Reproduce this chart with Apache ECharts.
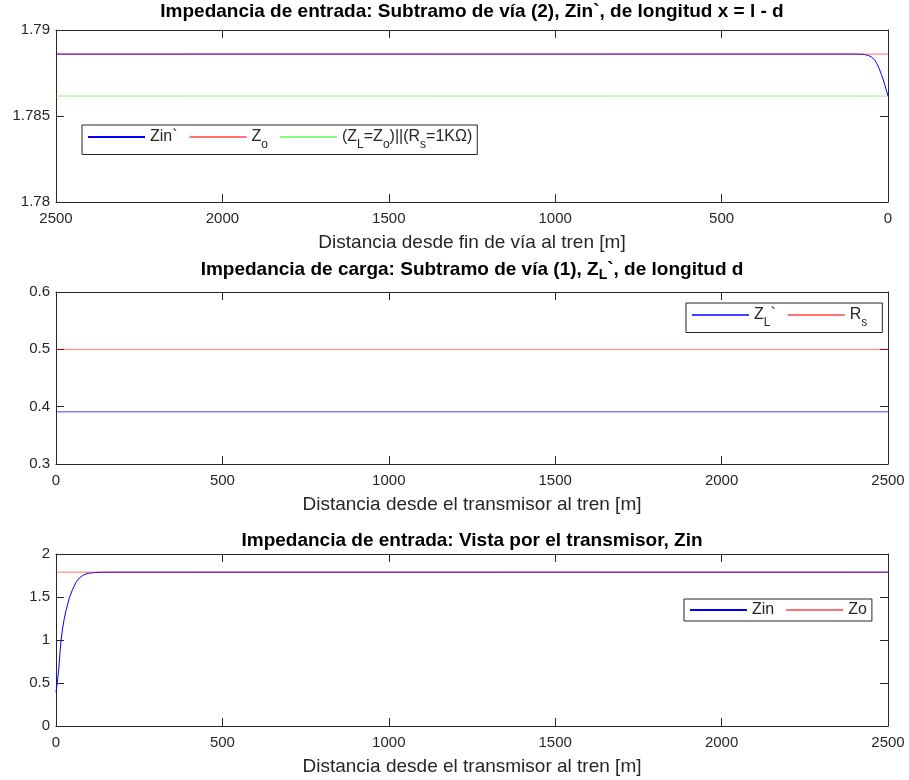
<!DOCTYPE html>
<html>
<head>
<meta charset="utf-8">
<script src="https://cdn.jsdelivr.net/npm/echarts@6/dist/echarts.min.js"></script>
<style>
  html, body { margin: 0; padding: 0; background: #ffffff; }
  #chart { width: 909px; height: 780px; }
</style>
</head>
<body>
<div id="chart"></div>
<script>
// ---- Panel 1: input impedance of track sub-section (2), length x = l - d ----
const distFromEnd = [0, 5, 10, 15, 20, 25, 30, 35, 40, 50, 60, 70, 80, 100, 2500];
const zinPrime = [1.78616, 1.7865, 1.78684, 1.78715, 1.78742, 1.78768, 1.78791, 1.7881, 1.78826, 1.78843, 1.78853, 1.78857, 1.78859, 1.7886, 1.7886];
const spanX = [0, 2500];
const zoLevel = [1.7886, 1.7886];
const zlParallelRs = [1.78616, 1.78616];
const yTicksTop = [1.78, 1.785, 1.79];

// ---- Panel 2: load impedance of track sub-section (1), length d ----
const zlPrime = [0.391, 0.391];
const rsLevel = [0.5, 0.5];
const yTicksMid = [0.3, 0.4, 0.5, 0.6];

// ---- Panel 3: input impedance seen by the transmitter ----
const distFromTx = [0, 4, 8, 12, 15, 20, 25, 30, 40, 50, 60, 70, 80, 90, 100, 110, 120, 130, 150, 180, 2500];
const zinTx = [0.39, 0.51, 0.65, 0.85, 0.99, 1.14, 1.25, 1.34, 1.49, 1.59, 1.67, 1.72, 1.75, 1.768, 1.777, 1.782, 1.785, 1.787, 1.788, 1.7886, 1.7886];
const zoTx = [1.7886, 1.7886];
const yTicksBot = [0, 0.5, 1, 1.5, 2];

const xTicks = [0, 500, 1000, 1500, 2000, 2500];

const FONT = '"Liberation Sans", Arial, Helvetica, sans-serif';
const INK = '#262626';
const BLUE = '#0000ff';
const RED = 'rgba(255,0,0,0.55)';
const GREEN = 'rgba(0,255,0,0.5)';

const pairs = (xs, ys) => xs.map((x, i) => [x, ys[i]]);
const fmtNum = v => String(parseFloat(Number(v).toFixed(4)));

const GRID_TOPS = [30, 292, 554];
const grids = GRID_TOPS.map(t => ({ left: 56, top: t, width: 832, height: 172, containLabel: false }));

function xPair(gridIndex, name, inverse) {
  const common = {
    type: 'value', gridIndex, min: xTicks[0], max: xTicks[xTicks.length - 1],
    interval: xTicks[1] - xTicks[0], inverse,
    splitLine: { show: false },
    axisLine: { show: true, onZero: false, lineStyle: { color: INK, width: 1 } },
    axisTick: { show: true, inside: true, length: 8, lineStyle: { color: INK } }
  };
  return [
    Object.assign({}, common, {
      position: 'bottom', name, nameLocation: 'middle', nameGap: 31,
      nameTextStyle: { fontFamily: FONT, fontSize: 19, color: INK },
      axisLabel: { fontFamily: FONT, fontSize: 15, color: INK, margin: 9, formatter: fmtNum }
    }),
    Object.assign({}, common, { position: 'top', axisLabel: { show: false } })
  ];
}

function yPair(gridIndex, ticks) {
  const common = {
    type: 'value', gridIndex, min: ticks[0], max: ticks[ticks.length - 1],
    interval: ticks[1] - ticks[0],
    splitLine: { show: false },
    axisLine: { show: true, onZero: false, lineStyle: { color: INK, width: 1 } },
    axisTick: { show: true, inside: true, length: 8, lineStyle: { color: INK } }
  };
  return [
    Object.assign({}, common, {
      position: 'left',
      axisLabel: { fontFamily: FONT, fontSize: 15, color: INK, margin: 6, formatter: fmtNum }
    }),
    Object.assign({}, common, { position: 'right', axisLabel: { show: false } })
  ];
}

function line(name, xi, data, color) {
  return {
    name, type: 'line', xAxisIndex: xi, yAxisIndex: xi, data,
    symbol: 'none', showSymbol: false, smooth: false, animation: false,
    lineStyle: { color, width: 1 }, itemStyle: { color }
  };
}

const legendText = {
  "Zin`": '{m|Zin`}',
  'Zo': '{m|Z}{s|o}',
  'ZL||Rs': '{m|(Z}{s|L}{m|=Z}{s|o}{m|)||(R}{s|s}{m|=1KΩ)}',
  "ZL`": '{m|Z}{s|L}{m|`}',
  'Rs': '{m|R}{s|s}',
  'Zin': '{m|Zin}',
  'Zo, transmisor': '{m|Zo}'
};

function legendBox(left, top, data, pad, lh) {
  const rich = {
    m: { fontFamily: FONT, fontSize: 16, color: INK, lineHeight: lh, verticalAlign: 'middle' },
    s: { fontFamily: FONT, fontSize: 12, color: INK, lineHeight: 8, verticalAlign: 'bottom' }
  };
  return {
    left, top, data, orient: 'horizontal',
    itemWidth: 57, itemHeight: 10, itemGap: 11,
    padding: pad, borderColor: INK, borderWidth: 1, backgroundColor: '#ffffff',
    selectedMode: false,
    itemStyle: { opacity: 0, borderWidth: 0 },
    formatter: n => legendText[n],
    textStyle: { fontFamily: FONT, fontSize: 16, color: INK, rich }
  };
}

const titleRich = {
  b: { fontFamily: FONT, fontSize: 19, fontWeight: 'bold', color: '#000000', lineHeight: 24, verticalAlign: 'middle' },
  s: { fontFamily: FONT, fontSize: 14, fontWeight: 'bold', color: '#000000', lineHeight: 8, verticalAlign: 'bottom' }
};
function title(text, top) {
  return {
    text, left: 472, top, textAlign: 'center', padding: 0,
    textStyle: { fontFamily: FONT, fontSize: 19, fontWeight: 'bold', color: '#000000', rich: titleRich }
  };
}

const option = {
  backgroundColor: '#ffffff',
  animation: false,
  title: [
    title('{b|Impedancia de entrada: Subtramo de vía (2), Zin`, de longitud x = l - d}', 0),
    title('{b|Impedancia de carga: Subtramo de vía (1), Z}{s|L}{b|`, de longitud d}', 258),
    title('{b|Impedancia de entrada: Vista por el transmisor, Zin}', 529)
  ],
  grid: grids,
  xAxis: [
    ...xPair(0, 'Distancia desde fin de vía al tren [m]', true),
    ...xPair(1, 'Distancia desde el transmisor al tren [m]', false),
    ...xPair(2, 'Distancia desde el transmisor al tren [m]', false)
  ],
  yAxis: [
    ...yPair(0, yTicksTop),
    ...yPair(1, yTicksMid),
    ...yPair(2, yTicksBot)
  ],
  legend: [
    legendBox(82, 125, ["Zin`", 'Zo', 'ZL||Rs'], [4, 5, 4, 5], 27),
    legendBox(686, 303, ["ZL`", 'Rs'], [4, 15, 4, 5], 27),
    legendBox(684, 599, ['Zin', 'Zo, transmisor'], [3, 5, 3, 5], 19)
  ],
  series: [
    line("Zin`", 0, pairs(distFromEnd, zinPrime), BLUE),
    line('Zo', 0, pairs(spanX, zoLevel), RED),
    line('ZL||Rs', 0, pairs(spanX, zlParallelRs), GREEN),
    line("ZL`", 2, pairs(spanX, zlPrime), 'rgba(0,0,255,0.75)'),
    line('Rs', 2, pairs(spanX, rsLevel), RED),
    line('Zin', 4, pairs(distFromTx, zinTx), BLUE),
    line('Zo, transmisor', 4, pairs(spanX, zoTx), RED)
  ]
};

const chart = echarts.init(document.getElementById('chart'), null, { renderer: 'canvas' });
chart.setOption(option);
</script>
</body>
</html>
